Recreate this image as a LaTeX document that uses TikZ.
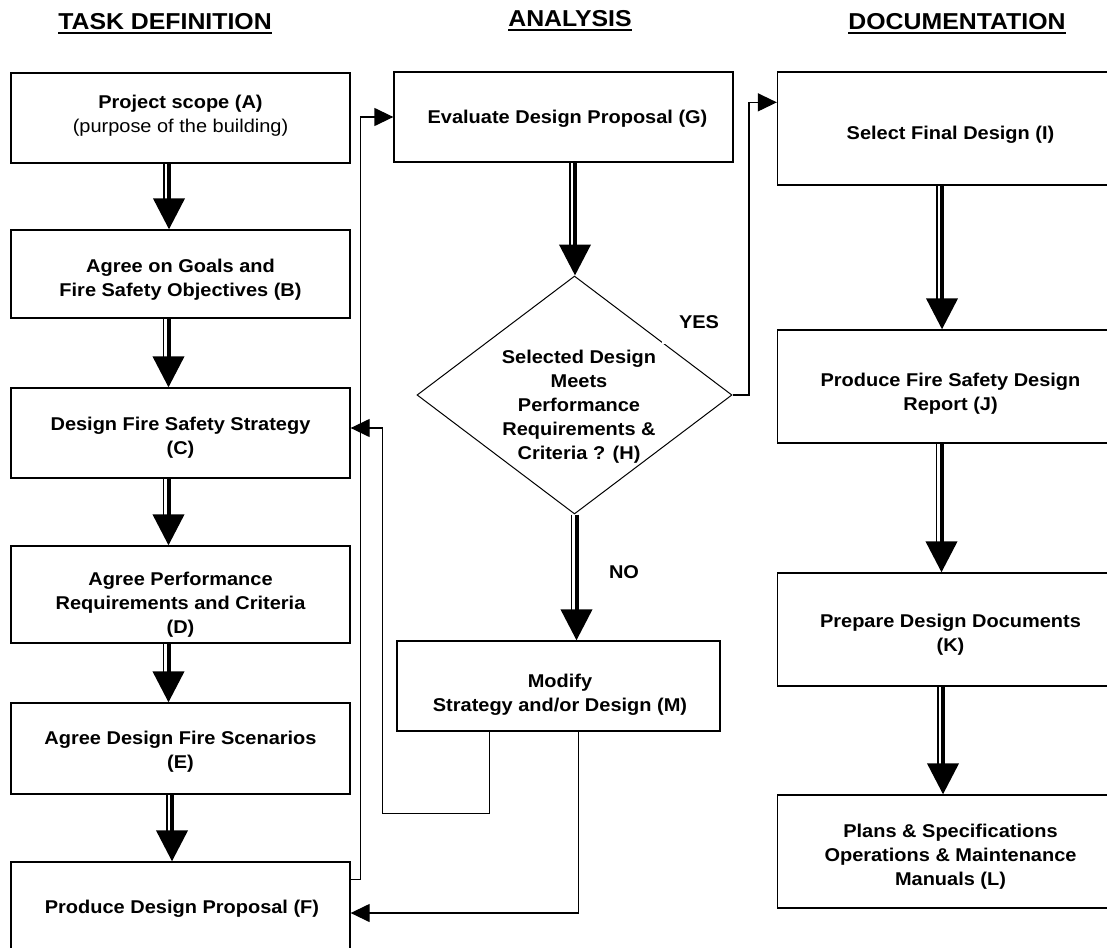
\documentclass[tikz,border=0pt]{standalone}
\usepackage{fontspec}
\setmainfont{Liberation Sans}[FakeStretch=1.08]
\usetikzlibrary{arrows.meta,calc,shapes.geometric}
% text block of zero size, shifted right by half of #1 and down by #2
\newcommand{\boxtext}[3]{\raisebox{\dimexpr-4.6pt-#2\relax}[0pt][0pt]{\makebox[0pt]{\hspace*{#1}\begin{tabular}{@{}c@{}}#3\end{tabular}}}}
\newcommand{\bigarrow}[3]{%
  \draw[fat] (#1 -| #3) -- (#2 -| #3);
  \draw[fatthin] ($(#1 -| #3)+(-5,0)$) -- ($(#2 -| #3)+(-5,-30)$);
}
\begin{document}
\begin{tikzpicture}[x=1pt,y=-1pt,
  box/.style={draw, line width=1.3pt, rectangle, inner sep=0pt, font=\bfseries\fontsize{18.5}{24}\selectfont},
  lbox/.style={box, minimum width=339pt},
  rbox/.style={box, minimum width=346pt, minimum height=113pt},
  hdr/.style={inner sep=0pt, font=\bfseries\fontsize{23}{27}\selectfont},
  lbl/.style={inner sep=0pt, font=\bfseries\fontsize{18.5}{24}\selectfont},
  fat/.style={line width=4pt, -{Triangle[width=31pt,length=31pt]}},
  fatthin/.style={line width=1.2pt},
  conn/.style={line width=1.3pt, -{Triangle[width=18pt,length=19pt]}},
  uline/.style={line width=2.5pt}
]
\clip (0,0) rectangle (1107,947);

% headers
\node[hdr, anchor=base] (h1) at (165,30) {TASK DEFINITION};
\node[hdr, anchor=base] (h2) at (570,27) {ANALYSIS};
\node[hdr, anchor=base] (h3) at (957,30) {DOCUMENTATION};
\draw[uline] ([yshift=-3pt]h1.base west) -- ([yshift=-3pt]h1.base east);
\draw[uline] ([yshift=-3pt]h2.base west) -- ([yshift=-3pt]h2.base east);
\draw[uline] ([yshift=-3pt]h3.base west) -- ([yshift=-3pt]h3.base east);

% task definition column
\node[lbox, minimum height=90pt] (A) at (180.5,118) {\boxtext{0pt}{-2.5pt}{Project scope (A)\\{\mdseries (purpose of the building)}}};
\node[lbox, minimum height=88pt] (B) at (180.5,274) {\boxtext{0pt}{5pt}{Agree on Goals and\\Fire Safety Objectives (B)}};
\node[lbox, minimum height=90pt] (C) at (180.5,433) {\boxtext{0pt}{4pt}{Design Fire Safety Strategy\\(C)}};
\node[lbox, minimum height=97pt] (D) at (180.5,594.5) {\boxtext{0pt}{10pt}{Agree Performance\\Requirements and Criteria\\(D)}};
\node[lbox, minimum height=91pt] (E) at (180.5,748.5) {\boxtext{0pt}{3pt}{Agree Design Fire Scenarios\\(E)}};
\node[lbox, minimum height=90pt] (F) at (180.5,907) {\boxtext{3pt}{1.5pt}{Produce Design Proposal (F)}};

% analysis column
\node[lbox, minimum height=90pt] (G) at (563.5,117) {\boxtext{8pt}{1.5pt}{Evaluate Design Proposal (G)}};
\node[draw, diamond, line width=1pt, minimum width=315pt, minimum height=238pt, inner sep=0pt,
      font=\bfseries\fontsize{18.5}{24}\selectfont] (H) at (574.5,395)
      {\boxtext{9pt}{11pt}{Selected Design\\Meets\\Performance\\Requirements \&\\Criteria ? (H)}};
\node[box, minimum width=323pt, minimum height=90pt] (M) at (558.5,686) {\boxtext{3pt}{8pt}{Modify\\Strategy and/or Design (M)}};

% documentation column
\node[rbox] (I) at (950.5,128.5) {\boxtext{0pt}{5.5pt}{Select Final Design (I)}};
\node[rbox] (J) at (950.5,386.5) {\boxtext{0pt}{6.5pt}{Produce Fire Safety Design\\Report (J)}};
\node[rbox] (K) at (950.5,629.5) {\boxtext{0pt}{5pt}{Prepare Design Documents\\(K)}};
\node[rbox] (L) at (950.5,851.5) {\boxtext{0pt}{4.5pt}{Plans \& Specifications\\Operations \& Maintenance\\Manuals (L)}};

% labels
\node[lbl, fill=white, minimum width=74pt, minimum height=44pt] (yes) at (699,322) {YES};
\node[lbl] (no) at (624,572) {NO};

% column coordinates for the thick arrows
\coordinate (cAB) at (169,0);
\coordinate (cBC) at (168.5,0);
\coordinate (cCD) at (168.5,0);
\coordinate (cDE) at (168.5,0);
\coordinate (cEF) at (172,0);
\coordinate (cGH) at (575,0);
\coordinate (cHM) at (576.5,0);
\coordinate (cIJ) at (942,0);
\coordinate (cJK) at (941.5,0);
\coordinate (cKL) at (943,0);

\bigarrow{A.south}{B.north}{cAB}
\bigarrow{B.south}{C.north}{cBC}
\bigarrow{C.south}{D.north}{cCD}
\bigarrow{D.south}{E.north}{cDE}
\bigarrow{E.south}{F.north}{cEF}
\bigarrow{G.south}{H.north}{cGH}
\bigarrow{H.south}{M.north}{cHM}
\bigarrow{I.south}{J.north}{cIJ}
\bigarrow{J.south}{K.north}{cJK}
\bigarrow{K.south}{L.north}{cKL}

% thin connectors
\draw[conn] ($(F.north east)+(0,18)$) -| ($(G.west)+(-33,0)$) -- (G.west);
\draw[conn] (H.east) -| ($(I.north west)+(-28,31)$) -- ($(I.north west)+(0,31)$);
\draw[conn] ($(M.south west)+(93,0)$) -- ++(0,82) -| ($(C.east)+(32,-5)$) -- ($(C.east)+(0,-5)$);
\draw[conn] ($(M.south west)+(182,0)$) |- ($(F.east)+(0,6)$);
\end{tikzpicture}
\end{document}
